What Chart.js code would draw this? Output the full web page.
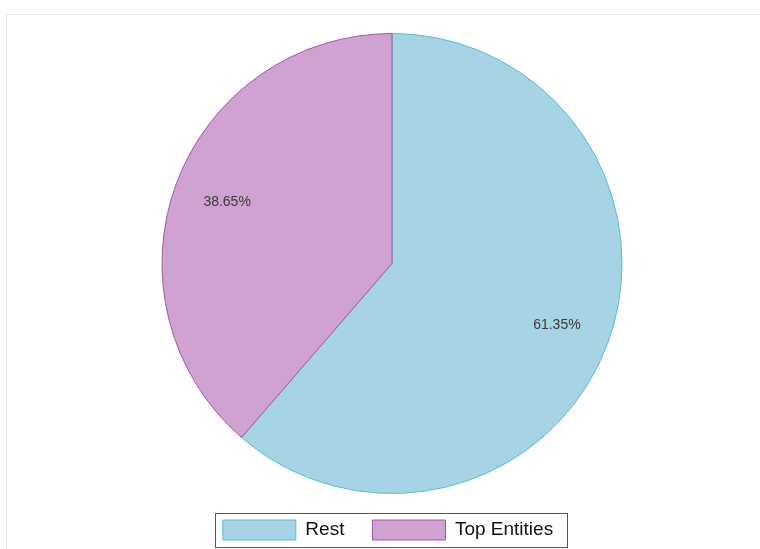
<!DOCTYPE html>
<html lang="en">
  <head>
    <meta charset="UTF-8" />
    <title>Rest vs Top Entities</title>
    <script src="https://cdn.jsdelivr.net/npm/chart.js"></script>
    <style>
      html,
      body {
        margin: 0;
        padding: 0;
        background: #fff;
      }
      .wrap {
        position: relative;
        width: 760px;
        height: 549px;
      }
    </style>
  </head>
  <body>
    <div class="wrap">
      <canvas id="pieChart" width="760" height="549"></canvas>
    </div>

    <script>
      const categories = ['Rest', 'Top Entities'];
      const shares = [61.35, 38.65];
      const fillColors = ['#a6d4e5', '#d0a2d1'];
      const edgeColors = ['#5db8d6', '#a552a8'];

      const fontFamily = '"Liberation Sans", Arial, sans-serif';

      // faint outer frame behind the plot
      const framePlugin = {
        id: 'frame',
        beforeDraw(chart) {
          const ctx = chart.ctx;
          ctx.save();
          ctx.strokeStyle = '#e3eded';
          ctx.lineWidth = 1;
          ctx.strokeRect(6.5, 14.5, 900, 700);
          ctx.restore();
        },
      };

      // percentage text inside each slice
      const sliceLabels = {
        id: 'sliceLabels',
        afterDatasetsDraw(chart) {
          const ctx = chart.ctx;
          const meta = chart.getDatasetMeta(0);
          ctx.save();
          ctx.font = '14px ' + fontFamily;
          ctx.fillStyle = '#3a3a3a';
          ctx.textAlign = 'center';
          ctx.textBaseline = 'middle';
          meta.data.forEach((arc, i) => {
            const p = arc.getProps(['x', 'y', 'startAngle', 'endAngle', 'outerRadius']);
            const mid = (p.startAngle + p.endAngle) / 2;
            const r = p.outerRadius * 0.765;
            ctx.fillText(
              shares[i].toFixed(2) + '%',
              p.x + Math.cos(mid) * r,
              p.y + Math.sin(mid) * r
            );
          });
          ctx.restore();
        },
      };

      // nudge the legend a little left and down, then box it in
      const legendFrame = {
        id: 'legendFrame',
        afterUpdate(chart) {
          const lg = chart.legend;
          if (!lg) return;
          const dx = -4;
          const dy = 1;
          lg.left += dx;
          lg.right += dx;
          lg.top += dy;
          lg.bottom += dy;
          lg.legendHitBoxes.forEach((h) => {
            h.left += dx;
            h.top += dy;
          });
        },
        afterDraw(chart) {
          const lg = chart.legend;
          if (!lg || !lg.legendHitBoxes.length) return;
          const hb = lg.legendHitBoxes;
          const first = hb[0];
          const last = hb[hb.length - 1];
          const boxH = lg.options.labels.boxHeight;
          const boxTop = first.top + (first.height - boxH) / 2;
          const ctx = chart.ctx;
          ctx.save();
          ctx.strokeStyle = '#555';
          ctx.lineWidth = 1;
          const x0 = Math.round(first.left - 8) + 0.5;
          const x1 = Math.round(last.left + last.width + 14) + 0.5;
          const y0 = Math.round(boxTop - 7) + 0.5;
          const y1 = Math.round(boxTop + boxH + 7) + 0.5;
          ctx.strokeRect(x0, y0, x1 - x0, y1 - y0);
          ctx.restore();
        },
      };

      new Chart(document.getElementById('pieChart'), {
        type: 'pie',
        data: {
          labels: categories,
          datasets: [
            {
              data: shares,
              backgroundColor: fillColors,
              borderColor: edgeColors,
              borderWidth: 1,
              radius: 230,
            },
          ],
        },
        options: {
          responsive: false,
          animation: false,
          layout: {
            padding: { top: 36, left: 24, right: 0, bottom: 0 },
          },
          plugins: {
            legend: {
              position: 'bottom',
              labels: {
                boxWidth: 73,
                boxHeight: 20,
                padding: 28,
                color: '#111',
                font: { family: fontFamily, size: 19 },
              },
            },
            tooltip: { enabled: false },
          },
        },
        plugins: [framePlugin, sliceLabels, legendFrame],
      });
    </script>
  </body>
</html>
